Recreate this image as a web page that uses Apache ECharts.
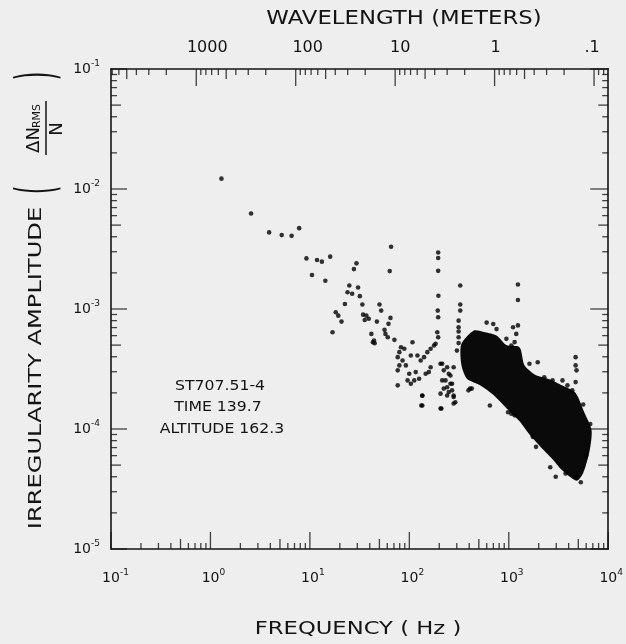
<!DOCTYPE html>
<html><head><meta charset="utf-8">
<script src="https://cdn.jsdelivr.net/npm/echarts@6/dist/echarts.min.js"></script>
<style>html,body{margin:0;padding:0;background:#eeeeee}#c{width:626px;height:644px}</style>
</head><body><div id="c"></div>
<script>
// ---------------- data ----------------
const freqExponents = [-1, 0, 1, 2, 3, 4];            // bottom axis decades (Hz)
const ampExponents = [-5, -4, -3, -2, -1];             // left axis decades
const wavelengthValues = [1000, 100, 10, 1, 0.1];      // top axis (metres)
const wavelengthText = ['1000', '100', '10', '1', '.1'];
const rocketSpeed = 720;                               // m/s : wavelength = speed / frequency

// isolated points
const isolatedFreq = [1.29,2.56,3.89,5.21,6.55,7.8,9.23,10.5,11.8,13.2,14.3,16.0,16.9,18.2,19.3,20.8,22.5,23.9,24.9,26.6,27.7,29.4,30.5,31.8,33.7,34.3,35.6,37,39.1,41.5,43,44.1,44.8,47.2,50.1,52.1,56.3,57.5,60.7,61.7,63.5,64.6,65.5,70.8,195,195,195,196,193,195,191,195,325,325,325,1236,1236,76.4,135,135,210,279,408];
const isolatedAmp = [0.0122,0.00625,0.00435,0.00413,0.00407,0.00472,0.00264,0.00192,0.00256,0.00248,0.00172,0.00273,0.00064,0.00094,0.00088,0.000785,0.0011,0.00138,0.00157,0.00134,0.00215,0.0024,0.00151,0.00128,0.00109,0.000897,0.00081,0.00088,0.00083,0.00062,0.000528,0.000546,0.000519,0.000785,0.00109,0.00097,0.00067,0.00062,0.000582,0.000752,0.00207,0.000843,0.0033,0.000553,0.00296,0.00266,0.00208,0.00129,0.00097,0.000853,0.00064,0.000582,0.00157,0.00109,0.00097,0.0016,0.00119,0.000231,0.000157,0.000189,0.000148,0.000163,0.000217];

// speckled cluster 80 - 330 Hz
const clusterFreq = [82.4,89,79.4,85.5,92.3,103.5,107.6,120.6,130,140.6,151.7,163.7,177,183.6,99.8,112,125.4,146,163.7,205.6,222,240,259,231,240,269,279,290,214,249,206,135,132,206,76.4,79.4,76.4,96,103.5,116,157,214,249,279,259,269,222,279,240,301,313,313,313,313,313,393,425];
const clusterAmp = [4.8e-4,4.66e-4,4.37e-4,3.72e-4,3.39e-4,4.1e-4,5.28e-4,4.1e-4,3.72e-4,3.97e-4,4.37e-4,4.66e-4,4.97e-4,5.13e-4,2.89e-4,2.54e-4,2.62e-4,2.89e-4,3.27e-4,3.5e-4,3.08e-4,3.27e-4,2.79e-4,2.54e-4,2.23e-4,2.38e-4,1.9e-4,1.67e-4,2.54e-4,2.03e-4,1.97e-4,1.9e-4,1.57e-4,1.48e-4,3.97e-4,3.39e-4,3.08e-4,2.54e-4,2.38e-4,2.98e-4,2.98e-4,3.5e-4,2.89e-4,3.27e-4,2.38e-4,2.1e-4,2.17e-4,1.85e-4,1.9e-4,4.5e-4,5.82e-4,7.05e-4,8.0e-4,6.5e-4,5.2e-4,2.1e-4,2.17e-4];

// points around the edge of the dense cloud
const edgeFreq = [599,698,753,1104,1236,1189,1145,1954,2755,3467,4700,4700,4800,4700,1742,1880,2612,2964,3722,4700,646,984,1062,1145,946,1062,1614,2275,3890,4355,5300,6000,6600,5600];
const edgeAmp = [7.7e-4,7.5e-4,6.8e-4,7.05e-4,7.3e-4,6.2e-4,5.3e-4,3.6e-4,2.54e-4,2.54e-4,3.97e-4,3.39e-4,3.08e-4,2.46e-4,8.6e-5,7.1e-5,4.8e-5,4.0e-5,4.26e-5,4.0e-5,1.57e-4,1.38e-4,1.34e-4,1.3e-4,5.64e-4,4.97e-4,3.5e-4,2.7e-4,2.31e-4,2.1e-4,3.6e-5,6.0e-5,1.1e-4,1.6e-4];

// outline of the solid (saturated) cloud of points
const cloudFreq = [333,442,576,753,946,1283,1438,1880,2550,3467,4700,5700,6800,6500,5600,4800,3467,2755,2027,1614,1283,1021,698,514,379,333];
const cloudAmp = [5.1e-4,6.6e-4,6.4e-4,6.0e-4,5.0e-4,4.8e-4,3.4e-4,2.8e-4,2.6e-4,2.3e-4,2.0e-4,1.4e-4,9.8e-5,6.6e-5,4.3e-5,3.7e-5,4.5e-5,5.6e-5,7.3e-5,9.0e-5,1.16e-4,1.4e-4,1.93e-4,2.32e-4,2.62e-4,3.45e-4];

// ---------------- chart ----------------
const FONT = 'DejaVu Sans';
const INK = '#141414';
const tickMult = [1, 2, 3, 4, 5, 6, 7, 8, 9];         // log ticks at m x 10^k
const xBase = { min: Math.pow(10, freqExponents[0]), max: Math.pow(10, freqExponents[freqExponents.length - 1]) };
const yBase = { min: Math.pow(10, ampExponents[0]), max: Math.pow(10, ampExponents[ampExponents.length - 1]) };
const wlBase = { min: rocketSpeed / xBase.max, max: rocketSpeed / xBase.min };

function tickValues(exps, lo, hi) {
  const out = [];
  exps.forEach(e => tickMult.forEach(m => {
    const v = +(m * Math.pow(10, e)).toPrecision(6);
    if (v >= lo * 0.9999 && v <= hi * 1.0001) out.push(v);
  }));
  return out;
}
function tickLen(v, major) {
  const m = Math.round(v / Math.pow(10, Math.floor(Math.log10(v) + 1e-9)));
  return m === 1 ? major : (m === 5 ? 10 : 6);
}
const TW = 1.3;
// tick marks drawn as thin rect symbols sitting on the axis, placed by the axes' scales
const bottomTicks = tickValues(freqExponents, xBase.min, xBase.max).map(v => {
  const L = tickLen(v, 17); return { value: [v, yBase.min], symbolSize: [TW, L], symbolOffset: [0, -L / 2] }; });
const topTicks = tickValues([-2, -1, 0, 1, 2, 3], wlBase.min, wlBase.max).map(v => {
  const L = tickLen(v, 17); return { value: [v, yBase.max], symbolSize: [TW, L], symbolOffset: [0, L / 2] }; });
const leftTicks = tickValues(ampExponents, yBase.min, yBase.max).map(v => {
  const L = tickLen(v, 16); return { value: [xBase.min, v], symbolSize: [L, TW], symbolOffset: [L / 2, 0] }; });
const rightTicks = tickValues(ampExponents, yBase.min, yBase.max).map(v => {
  const L = tickLen(v, 16); const R = L > 12 ? L + 2 : L; return { value: [xBase.max, v], symbolSize: [R, TW], symbolOffset: [-R / 2, 0] }; });
function tickSeries(data, xi) {
  return { type: 'scatter', xAxisIndex: xi, yAxisIndex: 0, data, symbol: 'rect', clip: false, silent: true, z: 5,
    itemStyle: { color: INK }, emphasis: { disabled: true } };
}

const rich = {
  b: { fontFamily: FONT, fontSize: 14, color: INK, lineHeight: 20 },
  c1: { fontFamily: FONT, fontSize: 14, color: INK, lineHeight: 20, padding: [0, 0, 0, 6] },
  c2: { fontFamily: FONT, fontSize: 14, color: INK, lineHeight: 20, padding: [0, 0, 0, 9] },
  s: { fontFamily: FONT, fontSize: 9, color: INK, verticalAlign: 'top', lineHeight: 20 }
};
function supY(v) { return '{b|10}{s|' + Math.round(Math.log10(v)) + '}'; }
function supX(v) { const e = String(Math.round(Math.log10(v))); return '{c' + e.length + '|10}{s|' + e + '}'; }
// hand-lettered wavelength labels sit a little right of their ticks
const wlShift = [11, 12, 5, 1, -2];
const wlRich = {};
wlShift.forEach((s, i) => { wlRich['o' + i] = { fontFamily: FONT, fontSize: 16, color: INK, padding: s >= 0 ? [0, 0, 0, 2 * s] : [0, -2 * s, 0, 0] }; });
function wlLabel(v) {
  let k = 0;
  wavelengthValues.forEach((w, i) => { if (Math.abs(Math.log10(w / v)) < Math.abs(Math.log10(wavelengthValues[k] / v))) k = i; });
  return '{o' + k + '|' + wavelengthText[k] + '}';
}

function axis(pos, base, labels, extra) {
  return Object.assign({
    type: 'log', position: pos, min: base.min, max: base.max,
    axisLine: { show: true, onZero: false, lineStyle: { color: INK, width: 1.6 } },
    axisTick: { show: false },
    axisLabel: labels || { show: false },
    splitLine: { show: false }
  }, extra || {});
}
const xAxes = [
  axis('bottom', xBase, { show: true, formatter: supX, rich, margin: 19 }),
  axis('top', wlBase, { show: true, margin: 13, formatter: wlLabel, rich: wlRich, showMinLabel: false, showMaxLabel: false }, { inverse: true })
];
const yAxes = [
  axis('left', yBase, { show: true, formatter: supY, rich, margin: 11 }),
  axis('right', yBase)
];

const pts = [];
[[isolatedFreq, isolatedAmp], [clusterFreq, clusterAmp], [edgeFreq, edgeAmp]].forEach(([f, a]) => f.forEach((v, i) => pts.push([v, a[i]])));
const outline = cloudFreq.map((f, i) => [f, cloudAmp[i]]);

function txt(t, x, y, size, sx, extra) {
  return Object.assign({ type: 'text', x, y, scaleX: sx || 1, silent: true,
    style: { text: t, x: 0, y: 0, fontFamily: FONT, fontSize: size, fill: INK, align: 'center', verticalAlign: 'middle' } }, extra || {});
}

const chart = echarts.init(document.getElementById('c'), null, { renderer: 'canvas' });
chart.setOption({
  animation: false,
  backgroundColor: '#eeeeee',
  grid: { left: 111, right: 12, top: 69, bottom: 95 },
  xAxis: xAxes,
  yAxis: yAxes,
  series: [
    { type: 'custom', coordinateSystem: 'cartesian2d', xAxisIndex: 0, yAxisIndex: 0, silent: true, data: outline,
      renderItem: (params, api) => {
        if (params.dataIndex !== 0) return null;
        const p = outline.map(d => api.coord(d));
        return { type: 'polygon', shape: { points: p, smooth: 0.25 }, style: { fill: '#0a0a0a' } };
      } },
    { type: 'scatter', xAxisIndex: 0, yAxisIndex: 0, data: pts, symbol: 'circle', symbolSize: 4.6, itemStyle: { color: '#000000' }, silent: true },
    tickSeries(bottomTicks, 0),
    tickSeries(topTicks, 1),
    tickSeries(leftTicks, 0),
    tickSeries(rightTicks, 0)
  ],
  graphic: [
    txt('WAVELENGTH (METERS)', 404, 19, 19, 1.2),
    txt('FREQUENCY ( Hz )', 358, 629, 18, 1.26),
    txt('IRREGULARITY AMPLITUDE', 36, 368, 18, 1.34, { rotation: Math.PI / 2 }),
    { type: 'group', x: 40, y: 133, rotation: Math.PI / 2, children: [
      txt('(', -57, 0, 22, 1, { scaleY: 2.4 }),
      txt('\u0394N', -7, -6, 18, 1),
      txt('RMS', 17, -3, 11, 1),
      { type: 'line', shape: { x1: -22, y1: 6, x2: 32, y2: 6 }, style: { stroke: INK, lineWidth: 1.5 } },
      txt('N', 4, 17, 18, 1),
      txt(')', 57, 0, 22, 1, { scaleY: 2.4 })
    ] },
    txt('ST707.51-4', 220, 386, 14, 1.12),
    txt('TIME 139.7', 218, 407, 14, 1.12),
    txt('ALTITUDE 162.3', 222, 429, 14, 1.12)
  ]
});
</script>
</body></html>
